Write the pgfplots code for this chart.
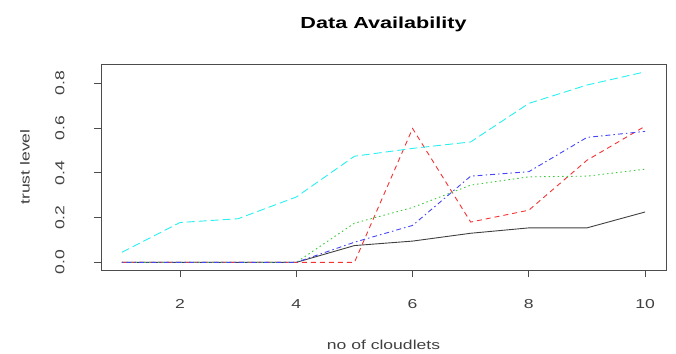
\documentclass[border=0pt]{standalone}
\usepackage{pgfplots}
\pgfplotsset{compat=1.18}
\usepackage{fontspec}
\setmainfont[FakeStretch=1.35]{Liberation Sans}
\definecolor{rcyan}{RGB}{40,240,240}
\definecolor{rgreen}{RGB}{60,200,60}
\definecolor{rblue}{RGB}{70,70,245}
\definecolor{rred}{RGB}{245,50,50}
\begin{document}
\begin{tikzpicture}
\useasboundingbox (0,0) rectangle (676bp,354bp);
\begin{axis}[
  at={(101bp,84bp)}, anchor=south west,
  scale only axis, width=565bp, height=206bp,
  xmin=0.64, xmax=10.36, ymin=-0.0341, ymax=0.886,
  xtick={2,4,6,8,10}, ytick={0,0.2,0.4,0.6,0.8},
  axis line style={black!70, line width=0.8bp},
  tick style={black!70, line width=0.8bp},
  tick align=outside, major tick length=7bp,
  xtick pos=bottom, ytick pos=left,
  /pgf/number format/assume math mode=true,
  yticklabel={\pgfmathprintnumber[fixed,fixed zerofill,precision=1]{\tick}},
  xticklabel style={anchor=center, yshift=-27bp, font=\fontsize{13bp}{15bp}\selectfont, text=black!75},
  yticklabel style={anchor=center, xshift=-34bp, rotate=90, font=\fontsize{13bp}{15bp}\selectfont, text=black!75},
  title={\textbf{Data Availability}},
  title style={at={(axis description cs:0.5,1)}, anchor=center, yshift=34bp, font=\fontsize{16bp}{19bp}\selectfont},
  xlabel={no of cloudlets},
  xlabel style={at={(axis description cs:0.5,0)}, anchor=center, yshift=-75bp, font=\fontsize{13bp}{15bp}\selectfont, text=black!75},
  ylabel={trust level},
  ylabel style={at={([xshift=-76bp]axis description cs:0,0.5)}, anchor=center, font=\fontsize{13bp}{15bp}\selectfont, text=black!75},
  every axis plot/.append style={line width=0.9bp},
]
\addplot[black!75, solid] coordinates {(1,0) (2,0) (3,0) (4,0) (5,0.075) (6,0.095) (7,0.13) (8,0.154) (9,0.154) (10,0.225)};
\addplot[rred, dash pattern=on 5bp off 4bp] coordinates {(1,0) (2,0) (3,0) (4,0) (5,0) (6,0.598) (7,0.18) (8,0.233) (9,0.456) (10,0.608)};
\addplot[rgreen, dash pattern=on 1.5bp off 3bp] coordinates {(1,0) (2,0) (3,0) (4,0) (5,0.175) (6,0.245) (7,0.345) (8,0.382) (9,0.385) (10,0.416)};
\addplot[rblue, dash pattern=on 1.5bp off 3bp on 5bp off 3bp] coordinates {(1,0) (2,0) (3,0) (4,0) (5,0.09) (6,0.165) (7,0.385) (8,0.405) (9,0.558) (10,0.585)};
\addplot[rcyan, dash pattern=on 8bp off 4bp] coordinates {(1,0.045) (2,0.178) (3,0.195) (4,0.292) (5,0.474) (6,0.509) (7,0.538) (8,0.71) (9,0.792) (10,0.851)};
\end{axis}
\end{tikzpicture}
\end{document}
